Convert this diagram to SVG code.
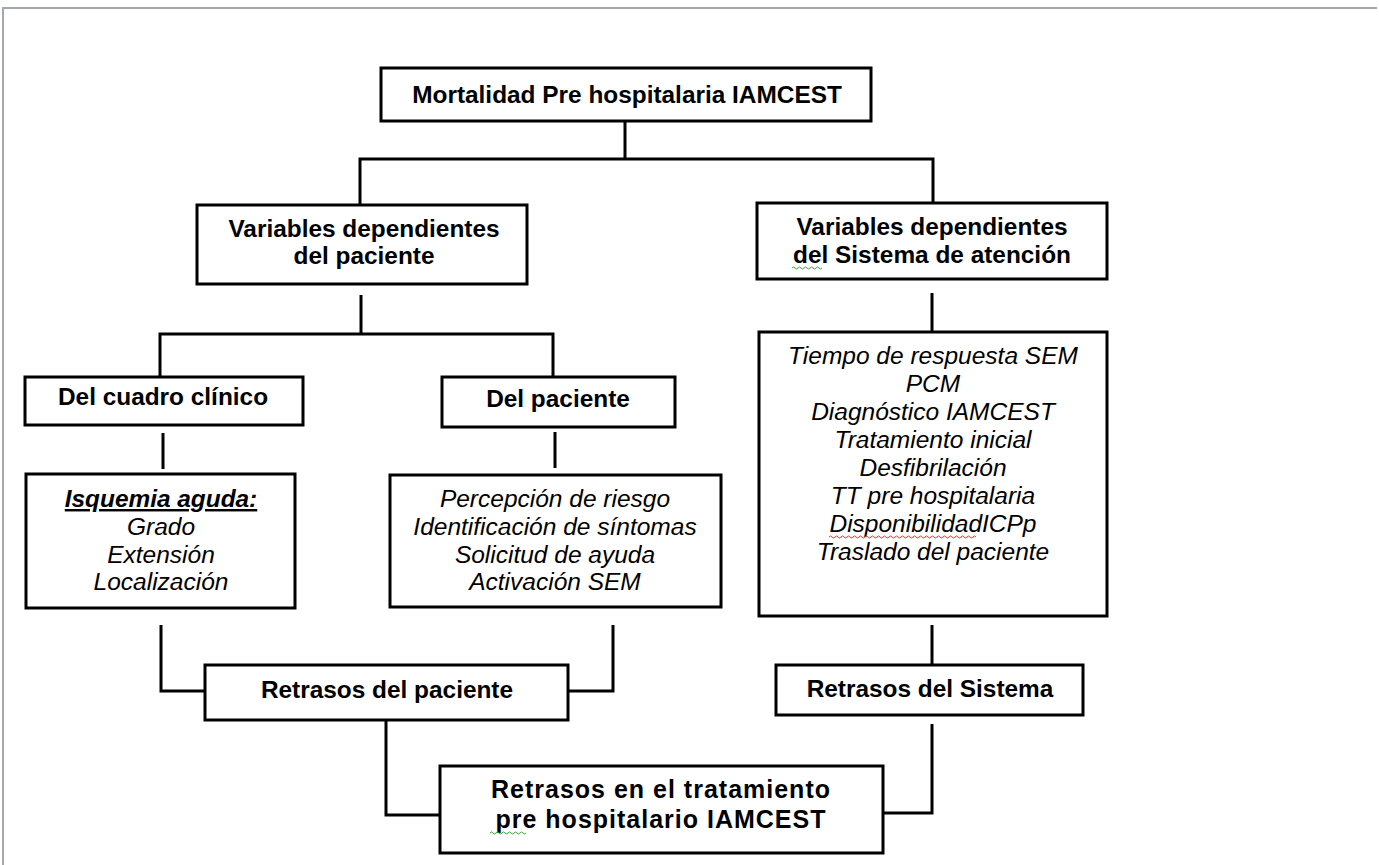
<svg xmlns="http://www.w3.org/2000/svg" width="1379" height="865" viewBox="0 0 1379 865">
<style>
.box{fill:#fff;stroke:#000;stroke-width:3}
.b{font-family:"Liberation Sans",Arial,sans-serif;font-size:24.4px;font-weight:bold;text-anchor:middle;fill:#000}
.i{font-family:"Liberation Sans",Arial,sans-serif;font-size:24.5px;font-style:italic;text-anchor:middle;fill:#000}
.f{font-size:25px;letter-spacing:1px}
.c line,.c polyline{stroke:#000;stroke-width:3;fill:none}
.sq{fill:none;stroke-width:1}
</style>
<rect width="1379" height="865" fill="#fff"/>
<g id="frame"><polyline points="3,865 3,8 1377,8" fill="none" stroke="#a4a8ac" stroke-width="2"/></g>
<g class="c" id="connectors">
<line x1="625" y1="121" x2="625" y2="159"/>
<polyline points="360,205 360,159 933,159 933,203"/>
<line x1="361" y1="295" x2="361" y2="334"/>
<polyline points="160,377 160,334 553,334 553,377"/>
<line x1="163" y1="433" x2="163" y2="469"/>
<line x1="555" y1="432" x2="555" y2="468"/>
<line x1="932" y1="293" x2="932" y2="332"/>
<polyline points="161,625 161,691 205,691"/>
<polyline points="613,625 613,691 568,691"/>
<line x1="932" y1="625" x2="932" y2="665"/>
<polyline points="386,720 386,815 440,815"/>
<polyline points="932,724 932,813 883,813"/>
</g>
<g id="n-top"><rect class="box" x="381" y="68" width="490" height="53"/><text class="b" x="627" y="103">Mortalidad Pre hospitalaria IAMCEST</text></g>
<g id="n-varpac"><rect class="box" x="197" y="205" width="330" height="79"/><text class="b" x="364" y="237">Variables dependientes</text><text class="b" x="364" y="264">del paciente</text></g>
<g id="n-varsis"><rect class="box" x="757" y="203" width="350" height="76"/><text class="b" x="932" y="235">Variables dependientes</text><text class="b" x="932" y="263">del Sistema de atención</text><path class="sq" stroke="#3a3" d="M792,268 q1.5,-2 3,0 t3,0 t3,0 t3,0 t3,0 t3,0 t3,0 t3,0 t3,0 t3,0"/></g>
<g id="n-cuadro"><rect class="box" x="25" y="377" width="278" height="48"/><text class="b" x="163" y="405">Del cuadro clínico</text></g>
<g id="n-delpac"><rect class="box" x="442" y="377" width="233" height="50"/><text class="b" x="558" y="407">Del paciente</text></g>
<g id="n-isq"><rect class="box" x="26" y="474" width="269" height="134"/>
<text class="b" x="161" y="507" font-style="italic" text-decoration="underline">Isquemia aguda:</text>
<text class="i" x="161" y="535">Grado</text><text class="i" x="161" y="563">Extensión</text><text class="i" x="161" y="590">Localización</text></g>
<g id="n-paclist"><rect class="box" x="390" y="475" width="331" height="132"/>
<text class="i" x="555" y="507">Percepción de riesgo</text><text class="i" x="555" y="535">Identificación de síntomas</text><text class="i" x="555" y="563">Solicitud de ayuda</text><text class="i" x="555" y="590">Activación SEM</text></g>
<g id="n-sislist"><rect class="box" x="759" y="332" width="348" height="284"/>
<text class="i" x="933" y="364">Tiempo de respuesta SEM</text><text class="i" x="933" y="392">PCM</text><text class="i" x="933" y="420">Diagnóstico IAMCEST</text><text class="i" x="933" y="448">Tratamiento inicial</text><text class="i" x="933" y="476">Desfibrilación</text><text class="i" x="933" y="504">TT pre hospitalaria</text><text class="i" x="933" y="532">DisponibilidadICPp</text><text class="i" x="933" y="560">Traslado del paciente</text>
<path class="sq" stroke="#e33" d="M829,537 q1.5,-2 3,0 t3,0 t3,0 t3,0 t3,0 t3,0 t3,0 t3,0 t3,0 t3,0 t3,0 t3,0 t3,0 t3,0 t3,0 t3,0 t3,0 t3,0 t3,0 t3,0 t3,0 t3,0 t3,0 t3,0 t3,0 t3,0 t3,0 t3,0 t3,0 t3,0 t3,0 t3,0 t3,0 t3,0 t3,0 t3,0 t3,0 t3,0 t3,0 t3,0 t3,0 t3,0 t3,0 t3,0 t3,0 t3,0 t3,0 t3,0 t3,0"/></g>
<g id="n-retpac"><rect class="box" x="205" y="665" width="363" height="55"/><text class="b" x="387" y="698">Retrasos del paciente</text></g>
<g id="n-retsis"><rect class="box" x="776" y="665" width="307" height="50"/><text class="b" x="930" y="697">Retrasos del Sistema</text></g>
<g id="n-final"><rect class="box" x="440" y="766" width="443" height="87"/><text class="b f" x="661" y="798">Retrasos en el tratamiento</text><text class="b f" x="661" y="828">pre hospitalario IAMCEST</text>
<path class="sq" stroke="#3a3" d="M490,833 q1.5,-2 3,0 t3,0 t3,0 t3,0 t3,0 t3,0 t3,0 t3,0 t3,0 t3,0 t3,0 t3,0"/></g>
</svg>
